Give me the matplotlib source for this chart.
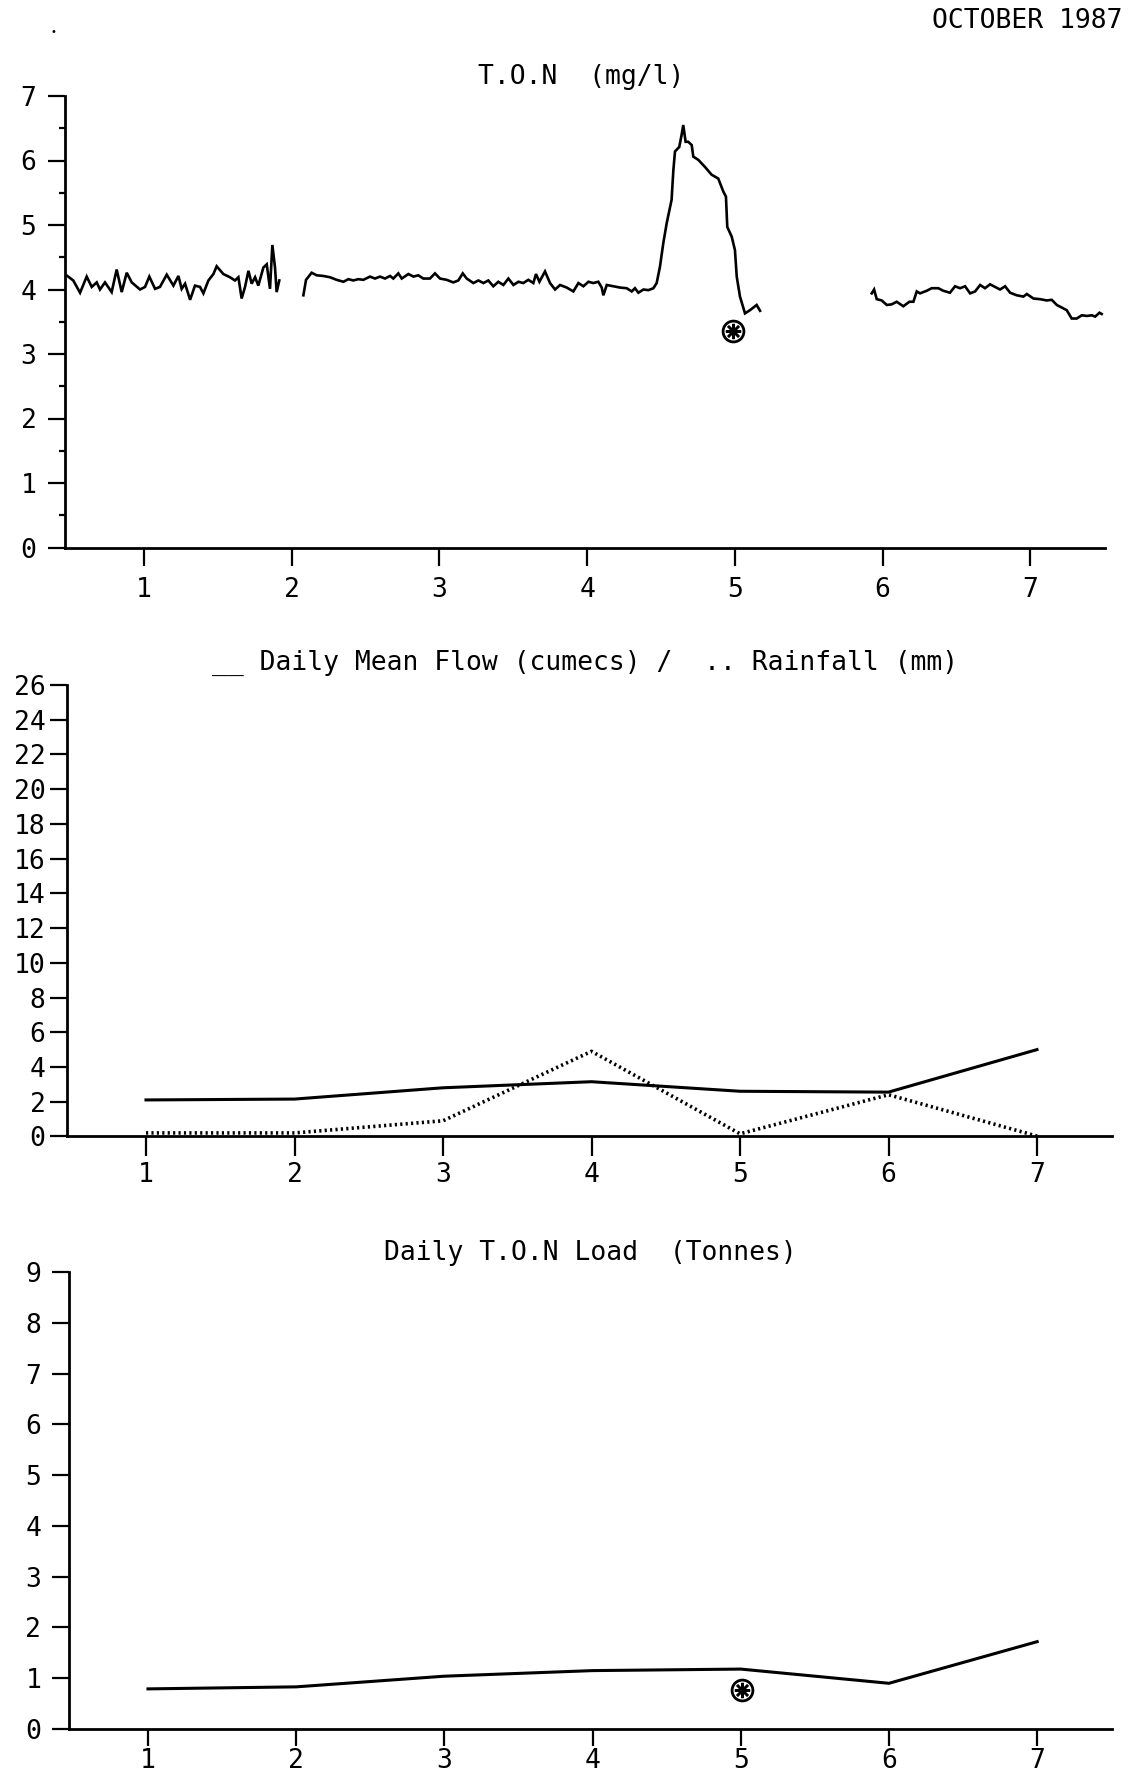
import matplotlib
matplotlib.use("Agg")
import matplotlib.pyplot as plt
import numpy as np

# ---------------- data ----------------
days = [1, 2, 3, 4, 5, 6, 7]

# T.O.N (mg/l) continuous record (day-of-month, value)
seg1_day = [0.481, 0.521, 0.567, 0.612, 0.646, 0.680, 0.702, 0.736, 0.781, 0.815,
            0.849, 0.883, 0.917, 0.973, 1.007, 1.036, 1.075, 1.108, 1.154, 1.199,
            1.233, 1.255, 1.278, 1.312, 1.345, 1.379, 1.402, 1.436, 1.470, 1.492,
            1.537, 1.582, 1.616, 1.639, 1.661, 1.684, 1.707, 1.729, 1.752, 1.774,
            1.808, 1.831, 1.853, 1.869, 1.887, 1.898, 1.916]
seg1_ton = [4.21, 4.14, 3.95, 4.20, 4.04, 4.11, 4.00, 4.11, 3.96, 4.31,
            3.96, 4.26, 4.11, 4.00, 4.04, 4.20, 4.01, 4.04, 4.23, 4.06,
            4.21, 4.01, 4.09, 3.84, 4.06, 4.04, 3.94, 4.14, 4.24, 4.36,
            4.24, 4.19, 4.14, 4.19, 3.86, 4.04, 4.29, 4.09, 4.19, 4.06,
            4.34, 4.39, 4.01, 4.69, 4.34, 3.96, 4.14]

seg2_day = [2.079, 2.097, 2.135, 2.169, 2.214, 2.259, 2.304, 2.350, 2.384, 2.417,
            2.451, 2.485, 2.530, 2.564, 2.598, 2.632, 2.666, 2.688, 2.722, 2.745,
            2.790, 2.824, 2.857, 2.891, 2.936, 2.970, 3.004, 3.049, 3.094, 3.128,
            3.158, 3.185, 3.230, 3.264, 3.298, 3.331, 3.365, 3.399, 3.433, 3.467,
            3.501, 3.535, 3.568, 3.602, 3.636, 3.654, 3.677, 3.715, 3.749, 3.783,
            3.817, 3.862, 3.907, 3.941, 3.975, 4.009, 4.042, 4.076, 4.099, 4.110,
            4.133, 4.178, 4.223, 4.268, 4.302, 4.324, 4.347, 4.381, 4.415, 4.449,
            4.471, 4.493, 4.516, 4.539, 4.572, 4.584, 4.595, 4.624, 4.640, 4.651,
            4.667, 4.685, 4.708, 4.719, 4.753, 4.798, 4.843, 4.888, 4.922, 4.940,
            4.949, 4.979, 5.001, 5.013, 5.035, 5.069, 5.103, 5.148, 5.171]
seg2_ton = [3.91, 4.15, 4.26, 4.22, 4.21, 4.19, 4.15, 4.12, 4.16, 4.14,
            4.16, 4.15, 4.20, 4.17, 4.20, 4.17, 4.21, 4.17, 4.25, 4.17,
            4.24, 4.20, 4.22, 4.17, 4.17, 4.25, 4.17, 4.15, 4.11, 4.14,
            4.25, 4.17, 4.10, 4.14, 4.10, 4.14, 4.05, 4.12, 4.07, 4.17,
            4.07, 4.12, 4.10, 4.15, 4.10, 4.24, 4.12, 4.28, 4.10, 4.00,
            4.07, 4.03, 3.97, 4.10, 4.05, 4.12, 4.10, 4.12, 4.03, 3.91,
            4.07, 4.05, 4.03, 4.02, 3.97, 4.02, 3.95, 4.00, 3.99, 4.02,
            4.10, 4.35, 4.72, 5.03, 5.39, 5.85, 6.14, 6.21, 6.40, 6.55,
            6.29, 6.29, 6.24, 6.06, 6.01, 5.90, 5.78, 5.72, 5.52, 5.44,
            4.97, 4.82, 4.61, 4.20, 3.89, 3.63, 3.68, 3.76, 3.67]

seg3_day = [5.927, 5.943, 5.961, 5.995, 6.029, 6.062, 6.096, 6.141, 6.182, 6.209,
            6.232, 6.254, 6.299, 6.333, 6.378, 6.412, 6.457, 6.491, 6.525, 6.559,
            6.593, 6.627, 6.661, 6.694, 6.728, 6.762, 6.796, 6.830, 6.864, 6.909,
            6.954, 6.977, 7.022, 7.067, 7.112, 7.146, 7.180, 7.214, 7.247, 7.281,
            7.315, 7.349, 7.383, 7.417, 7.440, 7.469, 7.484]
seg3_ton = [3.94, 4.00, 3.85, 3.83, 3.76, 3.77, 3.81, 3.74, 3.81, 3.81,
            3.97, 3.94, 3.98, 4.02, 4.02, 3.98, 3.95, 4.05, 4.02, 4.05,
            3.94, 3.97, 4.07, 4.02, 4.08, 4.04, 4.00, 4.05, 3.95, 3.91,
            3.89, 3.93, 3.86, 3.85, 3.83, 3.84, 3.76, 3.72, 3.68, 3.55,
            3.55, 3.60, 3.59, 3.60, 3.58, 3.64, 3.62]

ton_marker_day = [4.99]
ton_marker_val = [3.36]

flow = [2.1, 2.15, 2.8, 3.15, 2.6, 2.55, 5.0]      # cumecs
rain = [0.2, 0.2, 0.9, 4.9, 0.15, 2.4, 0.02]       # mm

load = [0.79, 0.83, 1.04, 1.15, 1.18, 0.90, 1.72]  # tonnes
load_marker_day = [5.01]
load_marker_val = [0.77]

x_ticks = [1, 2, 3, 4, 5, 6, 7]
ton_yticks = [0, 1, 2, 3, 4, 5, 6, 7]
flow_yticks = list(range(0, 27, 2))
load_yticks = list(range(0, 10))

# ---------------- style ----------------
FONT = "DejaVu Sans Mono"
FS = 19
plt.rcParams['font.family'] = [FONT, 'DejaVu Sans']
W, H = 1138, 1777
fig = plt.figure(figsize=(W / 100, H / 100), dpi=100)


def rect(x0, x1, ytop, ybot):
    return [x0 / W, 1 - ybot / H, (x1 - x0) / W, (ybot - ytop) / H]


def style(ax, xlim, ylim, yticks, xlen, xpad, ylen, ypad):
    ax.set_xlim(*xlim)
    ax.set_ylim(*ylim)
    for s in ['top', 'right']:
        ax.spines[s].set_visible(False)
    for s in ['left', 'bottom']:
        ax.spines[s].set_linewidth(2.0)
    ax.set_xticks(x_ticks)
    ax.set_xticklabels([str(t) for t in x_ticks])
    ax.set_yticks(yticks)
    ax.set_yticklabels([str(t) for t in yticks])
    ax.tick_params(axis='x', direction='out', length=xlen, width=1.6, pad=xpad,
                   labelsize=FS)
    ax.tick_params(axis='y', direction='out', length=ylen, width=1.6, pad=ypad,
                   labelsize=FS)
    for lab in ax.get_xticklabels() + ax.get_yticklabels():
        lab.set_fontfamily(FONT)


def star_marker(ax, xs, ys):
    ax.plot(xs, ys, linestyle='none', marker='o', ms=15, mfc='white',
            mec='black', mew=2.0, zorder=5)
    ax.plot(xs, ys, linestyle='none', marker=(8, 2, 0), ms=11, color='black',
            mew=1.8, zorder=6)


# ---- top panel: T.O.N ----
ax1 = fig.add_axes(rect(65, 1105, 96, 547.5))
for d, v in ((seg1_day, seg1_ton), (seg2_day, seg2_ton), (seg3_day, seg3_ton)):
    ax1.plot(d, v, color='black', lw=1.9, solid_joinstyle='miter')
star_marker(ax1, ton_marker_day, ton_marker_val)
style(ax1, (0.4651, 7.5064), (0, 7), ton_yticks, 13, 8.5, 12, 8.5)
ax1.set_yticks(np.arange(0.5, 7, 1.0), minor=True)
ax1.tick_params(axis='y', which='minor', direction='out', length=4.5, width=1.6)
ax1.tick_params(axis='x', which='minor', length=0)
fig.text(581 / W, 1 - 77 / H, "T.O.N  (mg/l)", ha='center', va='center',
         fontsize=FS, family=FONT)

# ---- middle panel: flow / rainfall ----
ax2 = fig.add_axes(rect(67, 1112, 685, 1136.4))
ax2.plot(days, flow, color='black', lw=2.2)
ax2.plot(days, rain, color='black', lw=2.6, linestyle=(0, (0.6, 0.9)))
style(ax2, (0.468, 7.505), (0, 26), flow_yticks, 14.4, 4.3, 12, 3.5)
fig.text(585 / W, 1 - 663 / H, "__ Daily Mean Flow (cumecs) /  .. Rainfall (mm)",
         ha='center', va='center', fontsize=FS, family=FONT)

# ---- bottom panel: load ----
ax3 = fig.add_axes(rect(69, 1112, 1272, 1729))
ax3.plot(days, load, color='black', lw=2.2)
star_marker(ax3, load_marker_day, load_marker_val)
style(ax3, (0.467, 7.505), (0, 9), load_yticks, 12, 1.5, 12, 8)
fig.text(590 / W, 1 - 1253 / H, "Daily T.O.N Load  (Tonnes)", ha='center',
         va='center', fontsize=FS, family=FONT)

# header
fig.text(1122 / W, 1 - 21 / H, "OCTOBER 1987", ha='right', va='center',
         fontsize=FS, family=FONT)
fig.text(53 / W, 1 - 32 / H, "\u2022", ha='center', va='center', fontsize=7,
         family=FONT)

fig.savefig("out.png", dpi=100, facecolor='white')
